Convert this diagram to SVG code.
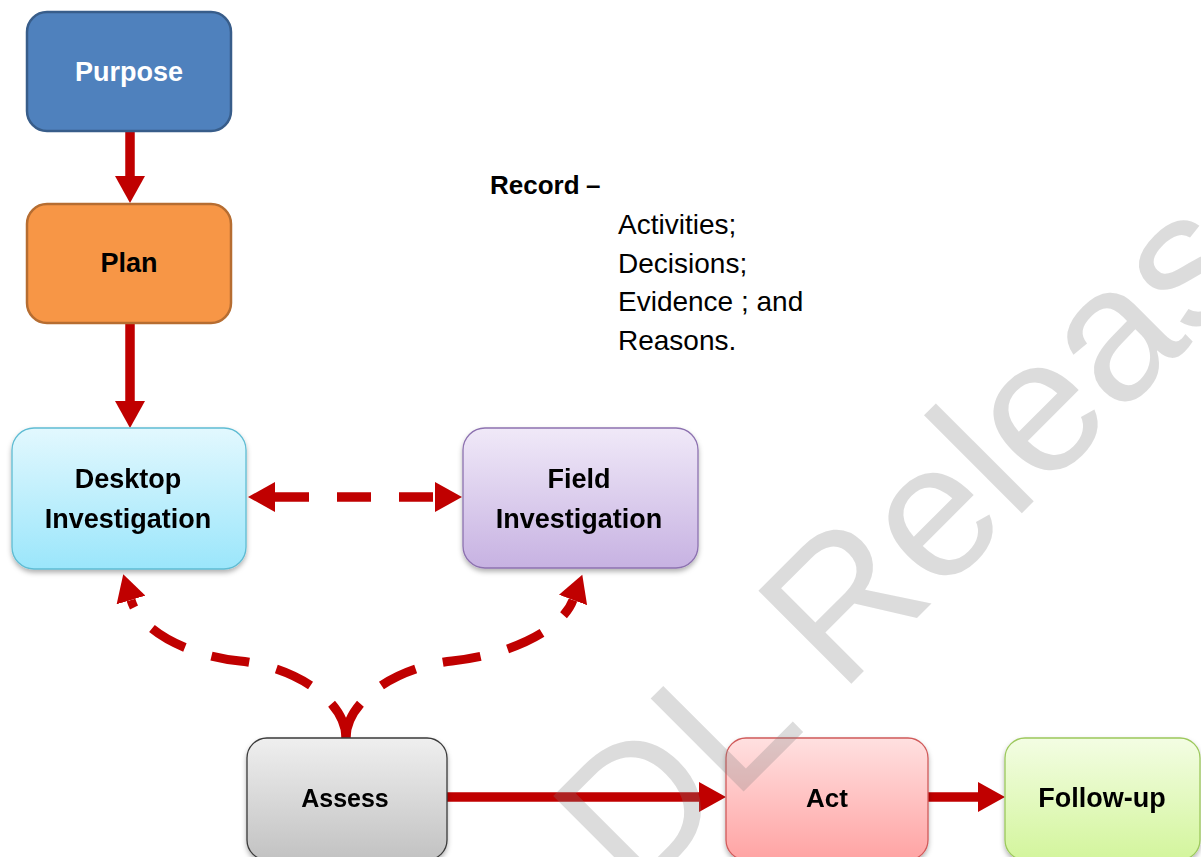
<svg xmlns="http://www.w3.org/2000/svg" width="1201" height="857" viewBox="0 0 1201 857">
  <style>
    .lbl { font-family: "Liberation Sans", Arial, sans-serif; font-weight: bold; font-size: 27px; fill: #000; text-anchor: middle; }
    .note { font-family: "Liberation Sans", Arial, sans-serif; font-size: 28px; fill: #000; }
    .solid { fill: none; stroke: #c00000; stroke-width: 9.5; }
    .dash { fill: none; stroke: #c00000; stroke-width: 9.5; stroke-dasharray: 34 28; }
    .curve { fill: none; stroke: #c00000; stroke-width: 9; stroke-dasharray: 38 28; }
    .mark { font-family: "Liberation Sans", Arial, sans-serif; font-size: 191px; fill: #7f7f7f; fill-opacity: 0.27; }
  </style>
  <defs>
    <marker id="head" markerUnits="userSpaceOnUse" markerWidth="28" markerHeight="30" refX="0" refY="15" orient="auto-start-reverse">
      <path d="M0,0 L27,15 L0,30 Z" fill="#c00000"/>
    </marker>
    <filter id="shadow" x="-10%" y="-10%" width="120%" height="130%">
      <feDropShadow dx="0" dy="3" stdDeviation="2.5" flood-color="#000" flood-opacity="0.3"/>
    </filter>
    <linearGradient id="gDesk" x1="0" y1="0" x2="0" y2="1">
      <stop offset="0" stop-color="#e2f8fe"/>
      <stop offset="1" stop-color="#9be6fb"/>
    </linearGradient>
    <linearGradient id="gField" x1="0" y1="0" x2="0" y2="1">
      <stop offset="0" stop-color="#f0e9f8"/>
      <stop offset="1" stop-color="#c7b2e2"/>
    </linearGradient>
    <linearGradient id="gAssess" x1="0" y1="0" x2="0" y2="1">
      <stop offset="0" stop-color="#efefef"/>
      <stop offset="1" stop-color="#c2c2c2"/>
    </linearGradient>
    <linearGradient id="gAct" x1="0" y1="0" x2="0" y2="1">
      <stop offset="0" stop-color="#ffe0e0"/>
      <stop offset="1" stop-color="#ffa3a3"/>
    </linearGradient>
    <linearGradient id="gFollow" x1="0" y1="0" x2="0" y2="1">
      <stop offset="0" stop-color="#f3fde3"/>
      <stop offset="1" stop-color="#d3f59c"/>
    </linearGradient>
  </defs>

  <rect width="1201" height="857" fill="#fff"/>

  <!-- connectors -->
  <g id="connectors">
    <path class="solid" d="M130,131 L130,176" marker-end="url(#head)"/>
    <path class="solid" d="M130,323 L130,401" marker-end="url(#head)"/>
    <path class="dash" d="M275,497 L435,497" marker-start="url(#head)" marker-end="url(#head)"/>
    <path class="curve" d="M346,738 C346,703 300,668 240,661 C185,655 140,630 131,600" marker-end="url(#head)"/>
    <path class="curve" d="M346,738 C346,703 392,668 452,661 C510,655 562,630 573,600" marker-end="url(#head)"/>
    <path class="solid" d="M447,797 L699,797" marker-end="url(#head)"/>
    <path class="solid" d="M928,797 L978,797" marker-end="url(#head)"/>
  </g>

  <!-- nodes -->
  <g id="purpose">
    <rect x="27" y="12" width="204" height="119" rx="20" fill="#4f81bd" stroke="#385d8a" stroke-width="2.5"/>
    <text class="lbl" x="129" y="81" style="fill:#fff">Purpose</text>
  </g>
  <g id="plan">
    <rect x="27" y="204" width="204" height="119" rx="20" fill="#f79646" stroke="#b66d31" stroke-width="2.5"/>
    <text class="lbl" x="129" y="272">Plan</text>
  </g>
  <g id="desktop" filter="url(#shadow)">
    <rect x="12" y="428" width="234" height="141" rx="22" fill="url(#gDesk)" stroke="#5fbcd3" stroke-width="1.3"/>
    <text class="lbl" x="128" y="488">Desktop</text>
    <text class="lbl" x="128" y="528">Investigation</text>
  </g>
  <g id="field" filter="url(#shadow)">
    <rect x="463" y="428" width="235" height="140" rx="22" fill="url(#gField)" stroke="#8d72b0" stroke-width="1.3"/>
    <text class="lbl" x="579" y="488">Field</text>
    <text class="lbl" x="579" y="528">Investigation</text>
  </g>
  <g id="assess" filter="url(#shadow)">
    <rect x="247" y="738" width="200" height="122" rx="20" fill="url(#gAssess)" stroke="#3a3a3a" stroke-width="1.3"/>
    <text class="lbl" x="345" y="807" style="font-size:25px">Assess</text>
  </g>
  <g id="act" filter="url(#shadow)">
    <rect x="726" y="738" width="202" height="122" rx="20" fill="url(#gAct)" stroke="#d05a5a" stroke-width="1.3"/>
    <text class="lbl" x="827" y="807" style="font-size:26px">Act</text>
  </g>
  <g id="followup" filter="url(#shadow)">
    <rect x="1005" y="738" width="195" height="122" rx="20" fill="url(#gFollow)" stroke="#9cc85c" stroke-width="1.3"/>
    <text class="lbl" x="1102" y="807" style="font-size:27px">Follow-up</text>
  </g>

  <!-- record note -->
  <g id="record">
    <text class="note" x="490" y="194" style="font-weight:bold;font-size:26px">Record<tspan x="586">–</tspan></text>
    <text class="note" x="618" y="234">Activities;</text>
    <text class="note" x="618" y="273">Decisions;</text>
    <text class="note" x="618" y="311">Evidence ; and</text>
    <text class="note" x="618" y="350">Reasons.</text>
  </g>

  <!-- watermark, runs off the right edge -->
  <text class="mark" x="635" y="900" transform="rotate(-45 635 900)">DL Releas</text>
</svg>
